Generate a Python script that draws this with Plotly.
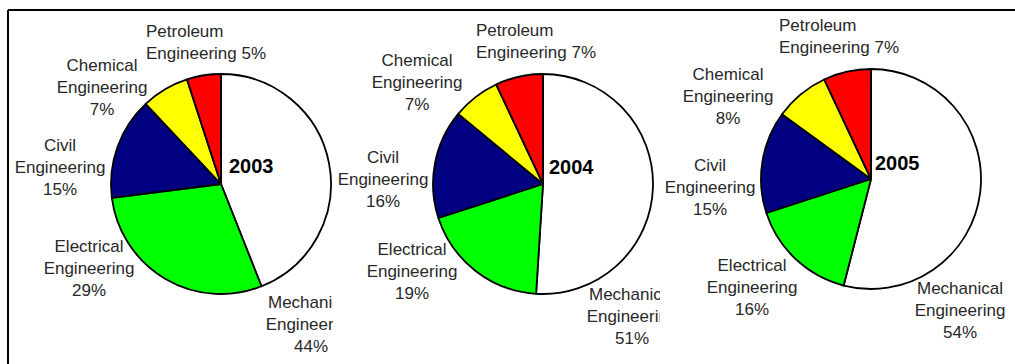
import plotly.graph_objects as go

# Share of engineering graduates by discipline (%), one pie per year
years = ["2003", "2004", "2005"]
disciplines = [
    "Mechanical Engineering",
    "Electrical Engineering",
    "Civil Engineering",
    "Chemical Engineering",
    "Petroleum Engineering",
]
share_2003 = [44, 29, 15, 7, 5]
share_2004 = [51, 19, 16, 7, 7]
share_2005 = [54, 16, 15, 8, 7]
shares = [share_2003, share_2004, share_2005]
slice_colors = ["#FFFFFF", "#00FF00", "#000080", "#FFFF00", "#FF0000"]

W, H = 1015, 364
LABEL_FONT = dict(family="Liberation Sans, Arial, sans-serif", size=17, color="#282828")

# Each year sits in its own panel (pixel x-range); labels are clipped at the panel edge
panels = [(8, 333), (333, 660), (660, 1015)]
# Pie centre (x, y) and radius in pixels
pie_geom = [(221, 184, 110), (543, 184, 110), (871, 179, 110)]
# Year caption: left edge and vertical centre
year_pos = [(227, 166), (547, 167), (873, 163)]

# Label anchor per discipline: (x, y, textposition) in pixels
label_pos = [
    {
        "Mechanical Engineering": (311, 326, "middle center"),
        "Electrical Engineering": (89, 270, "middle center"),
        "Civil Engineering": (60, 169, "middle center"),
        "Chemical Engineering": (102, 89, "middle center"),
        "Petroleum Engineering": (146, 44, "middle right"),
    },
    {
        "Mechanical Engineering": (632, 318, "middle center"),
        "Electrical Engineering": (412, 273, "middle center"),
        "Civil Engineering": (383, 181, "middle center"),
        "Chemical Engineering": (417, 84, "middle center"),
        "Petroleum Engineering": (476, 43, "middle right"),
    },
    {
        "Mechanical Engineering": (960, 312, "middle center"),
        "Electrical Engineering": (752, 289, "middle center"),
        "Civil Engineering": (710, 189, "middle center"),
        "Chemical Engineering": (728, 98, "middle center"),
        "Petroleum Engineering": (779, 38, "middle right"),
    },
]


def label_text(name, pct, inline_pct):
    first, second = name.split(" ", 1)
    if inline_pct:
        return f"{first}<br>{second} {pct}%"
    return f"{first}<br>{second}<br>{pct}%"


fig = go.Figure()

for k, (year, vals) in enumerate(zip(years, shares)):
    cx, cy, r = pie_geom[k]
    fig.add_trace(
        go.Pie(
            labels=disciplines,
            values=vals,
            sort=False,
            direction="clockwise",
            rotation=0,
            textinfo="none",
            hoverinfo="skip",
            showlegend=False,
            marker=dict(colors=slice_colors, line=dict(color="#000000", width=1.8)),
            domain=dict(
                x=[(cx - r) / W, (cx + r) / W],
                y=[1 - (cy + r) / H, 1 - (cy - r) / H],
            ),
            name=year,
        )
    )

    xs, ys, texts, tpos = [], [], [], []
    for name, pct in zip(disciplines, vals):
        x, y, pos = label_pos[k][name]
        xs.append(x)
        ys.append(y)
        tpos.append(pos)
        texts.append(label_text(name, pct, name.startswith("Petroleum")))

    ax = "" if k == 0 else str(k + 1)
    fig.add_trace(
        go.Scatter(
            x=xs,
            y=ys,
            text=texts,
            mode="text",
            textposition=tpos,
            textfont=LABEL_FONT,
            cliponaxis=True,
            hoverinfo="skip",
            showlegend=False,
            xaxis="x" + ax,
            yaxis="y" + ax,
        )
    )
    x0, x1 = panels[k]
    fig.update_layout(
        {
            "xaxis" + ax: dict(range=[x0, x1], domain=[x0 / W, x1 / W], visible=False,
                               fixedrange=True, anchor="y" + ax),
            "yaxis" + ax: dict(range=[H, 0], domain=[0, 1], visible=False, fixedrange=True,
                               anchor="x" + ax),
        }
    )

    yx, yy = year_pos[k]
    fig.add_annotation(
        x=yx / W, y=1 - yy / H, xref="paper", yref="paper",
        text=f"<b>{year}</b>", showarrow=False, xanchor="left", yanchor="middle",
        font=dict(family="Liberation Sans, Arial, sans-serif", size=20, color="#000000"),
    )

# Frame lines along the top and left edges
fig.add_shape(type="line", xref="paper", yref="paper",
              x0=8 / W, x1=1, y0=1 - 10 / H, y1=1 - 10 / H,
              line=dict(color="#000000", width=2))
fig.add_shape(type="line", xref="paper", yref="paper",
              x0=8 / W, x1=8 / W, y0=1 - 10 / H, y1=0,
              line=dict(color="#000000", width=2))

fig.update_layout(
    width=W,
    height=H,
    autosize=False,
    margin=dict(l=0, r=0, t=0, b=0),
    paper_bgcolor="#FFFFFF",
    plot_bgcolor="rgba(0,0,0,0)",
    hovermode=False,
)

fig.write_html("out.html", config={"displayModeBar": False})
